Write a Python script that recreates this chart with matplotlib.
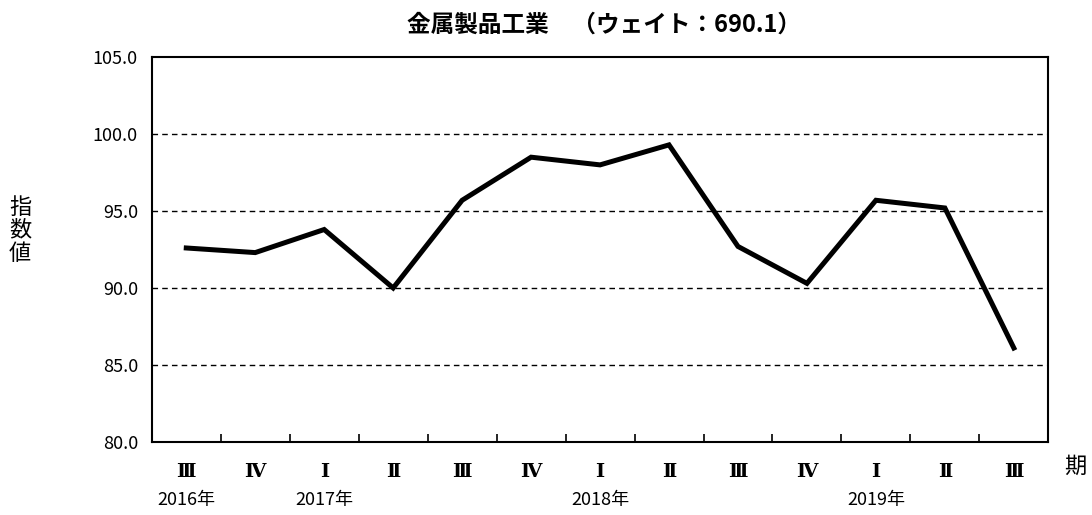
import matplotlib
matplotlib.use('Agg')
import matplotlib.pyplot as plt
import numpy as np

plt.rcParams['font.family'] = ['Noto Sans CJK JP', 'DejaVu Sans']

quarters = ['Ⅲ', 'Ⅳ', 'Ⅰ', 'Ⅱ', 'Ⅲ', 'Ⅳ', 'Ⅰ', 'Ⅱ', 'Ⅲ', 'Ⅳ', 'Ⅰ', 'Ⅱ', 'Ⅲ']
years = ['2016年', '', '2017年', '', '', '', '2018年', '', '', '', '2019年', '', '']
values = [92.6, 92.3, 93.8, 90.0, 95.7, 98.5, 98.0, 99.3, 92.7, 90.3, 95.7, 95.2, 86.1]

fig = plt.figure(figsize=(10.92, 5.15), dpi=100)
ax = fig.add_axes([0.139, 0.142, 0.821, 0.747])

x = np.arange(len(values))
ax.plot(x, values, color='black', linewidth=3.6, solid_joinstyle='miter')

ax.set_xlim(-0.5, len(values) - 0.5)
ax.set_ylim(80, 105)
ax.set_yticks([80, 85, 90, 95, 100, 105])
ax.set_yticklabels([f'{v:.1f}' for v in [80, 85, 90, 95, 100, 105]], fontsize=13)
ax.tick_params(axis='y', length=0, pad=10)

for v in [85, 90, 95, 100]:
    ax.axhline(v, color='black', linestyle=(0, (4, 3)), linewidth=1.0)

ax.set_xticks(x)
ax.set_xticklabels([])
ax.tick_params(axis='x', which='major', length=0)
ax.set_xticks(np.arange(0.5, len(values) - 1), minor=True)
ax.tick_params(axis='x', which='minor', direction='in', length=6, width=1.2)

for i, (q, y) in enumerate(zip(quarters, years)):
    ax.text(i, 78.6, q, ha='center', va='top', fontsize=14, fontweight='bold',
            family=['DejaVu Serif'])
    if y:
        ax.text(i, 76.8, y, ha='center', va='top', fontsize=13)

for s in ax.spines.values():
    s.set_color('black')
    s.set_linewidth(1.5)

fig.text(1075 / 1092, 1 - 466 / 515, '期', ha='center', va='center', fontsize=16)
fig.text(20 / 1092, 1 - 230 / 515, '指\n数\n値', ha='center', va='center', fontsize=16, linespacing=1.0)
fig.text(0.553, 1 - 25 / 515, '金属製品工業　（ウェイト：690.1）', ha='center', va='center',
         fontsize=17, fontweight='bold')

fig.savefig('out.png', dpi=100)
